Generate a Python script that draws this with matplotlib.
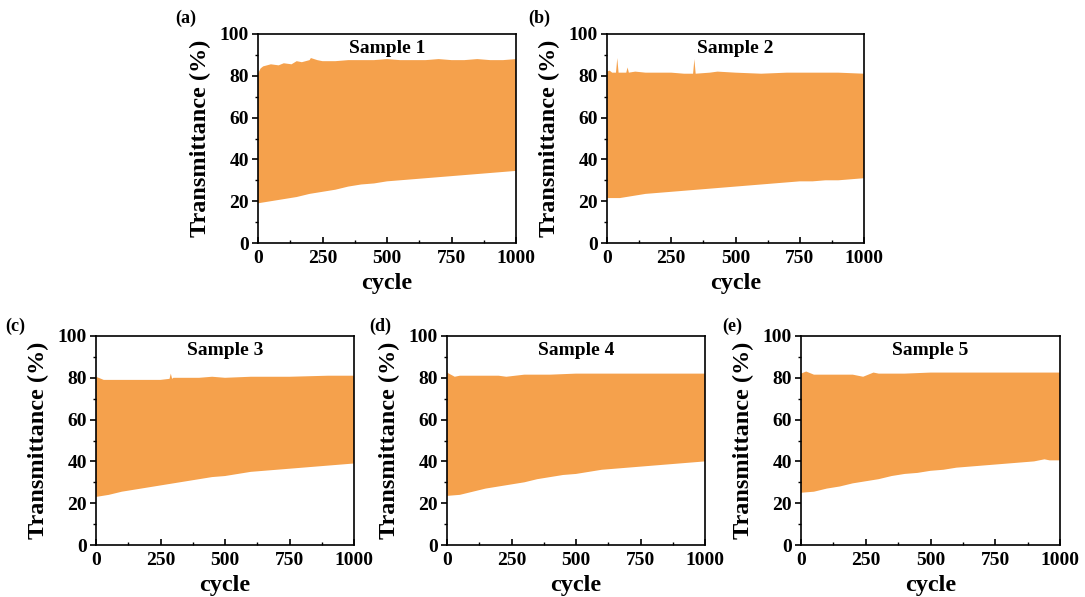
import matplotlib
matplotlib.use("Agg")
import matplotlib.pyplot as plt
import numpy as np

# огибающие пропускания (верх / низ) для пяти образцов

# Sample 1
s1_up_x = [0, 10, 20, 50, 80, 100, 130, 150, 170, 200, 205, 230, 250, 300, 350, 400, 450, 500, 550, 600, 650, 700, 750, 800, 850, 900, 950, 1000]
s1_up_y = [81, 83.5, 84.5, 85.5, 85, 86, 85.5, 87, 86.5, 87.5, 88.5, 87.5, 87, 87, 87.5, 87.5, 87.5, 88, 87.5, 87.5, 87.5, 88, 87.5, 87.5, 88, 87.5, 87.5, 88]
s1_lo_x = [0, 50, 100, 150, 200, 250, 300, 350, 400, 450, 500, 550, 600, 650, 700, 750, 800, 850, 900, 950, 1000]
s1_lo_y = [19, 20, 21, 22, 23.5, 24.5, 25.5, 27, 28, 28.5, 29.5, 30, 30.5, 31, 31.5, 32, 32.5, 33, 33.5, 34, 34.5]

# Sample 2
s2_up_x = [0, 10, 20, 35, 40, 45, 60, 75, 80, 85, 110, 150, 250, 300, 335, 340, 345, 400, 430, 500, 600, 700, 800, 900, 1000]
s2_up_y = [82, 82.5, 81.5, 81.5, 88.5, 81.5, 81.5, 81.5, 84, 81.5, 82, 81.5, 81.5, 81, 81, 88, 81, 81.5, 82, 81.5, 81, 81.5, 81.5, 81.5, 81]
s2_lo_x = [0, 50, 100, 150, 200, 250, 300, 350, 400, 450, 500, 550, 600, 650, 700, 750, 800, 850, 900, 950, 1000]
s2_lo_y = [21.5, 21.5, 22.5, 23.5, 24, 24.5, 25, 25.5, 26, 26.5, 27, 27.5, 28, 28.5, 29, 29.5, 29.5, 30, 30, 30.5, 31]

# Sample 3
s3_up_x = [0, 20, 30, 100, 200, 250, 285, 290, 295, 300, 400, 450, 500, 600, 750, 900, 1000]
s3_up_y = [80.5, 79.5, 79, 79, 79, 79, 79.5, 82, 79.5, 80, 80, 80.5, 80, 80.5, 80.5, 81, 81]
s3_lo_x = [0, 50, 100, 150, 200, 250, 300, 350, 400, 450, 500, 550, 600, 650, 700, 750, 800, 850, 900, 950, 1000]
s3_lo_y = [23, 24, 25.5, 26.5, 27.5, 28.5, 29.5, 30.5, 31.5, 32.5, 33, 34, 35, 35.5, 36, 36.5, 37, 37.5, 38, 38.5, 39]

# Sample 4
s4_up_x = [0, 15, 30, 50, 100, 200, 230, 300, 400, 500, 600, 700, 800, 900, 1000]
s4_up_y = [82.5, 81.5, 80.5, 81, 81, 81, 80.5, 81.5, 81.5, 82, 82, 82, 82, 82, 82]
s4_lo_x = [0, 50, 100, 150, 200, 250, 300, 350, 400, 450, 500, 550, 600, 650, 700, 750, 800, 850, 900, 950, 1000]
s4_lo_y = [23.5, 24, 25.5, 27, 28, 29, 30, 31.5, 32.5, 33.5, 34, 35, 36, 36.5, 37, 37.5, 38, 38.5, 39, 39.5, 40]

# Sample 5
s5_up_x = [0, 20, 50, 100, 200, 240, 260, 280, 300, 400, 500, 600, 700, 800, 900, 1000]
s5_up_y = [82, 83, 81.5, 81.5, 81.5, 80.5, 81.5, 82.5, 82, 82, 82.5, 82.5, 82.5, 82.5, 82.5, 82.5]
s5_lo_x = [0, 50, 100, 150, 200, 250, 300, 350, 400, 450, 500, 550, 600, 650, 700, 750, 800, 850, 900, 940, 960, 1000]
s5_lo_y = [25, 25.5, 27, 28, 29.5, 30.5, 31.5, 33, 34, 34.5, 35.5, 36, 37, 37.5, 38, 38.5, 39, 39.5, 40, 41, 40.5, 40.5]

samples = ["Sample 1", "Sample 2", "Sample 3", "Sample 4", "Sample 5"]
panel_tags = ["(a)", "(b)", "(c)", "(d)", "(e)"]
x_ticks = [0, 250, 500, 750, 1000]
y_ticks = [0, 20, 40, 60, 80, 100]

data = [
    (s1_up_x, s1_up_y, s1_lo_x, s1_lo_y),
    (s2_up_x, s2_up_y, s2_lo_x, s2_lo_y),
    (s3_up_x, s3_up_y, s3_lo_x, s3_lo_y),
    (s4_up_x, s4_up_y, s4_lo_x, s4_lo_y),
    (s5_up_x, s5_up_y, s5_lo_x, s5_lo_y),
]

plt.rcParams['font.family'] = ['Liberation Serif', 'DejaVu Serif']
plt.rcParams['font.weight'] = 'bold'

W, H = 1085, 597
fig = plt.figure(figsize=(W / 100, H / 100), dpi=100)

# положения осей в пикселях: left, top, right, bottom
boxes = [
    (258, 34, 516, 243),
    (607, 34, 864, 243),
    (96, 336, 354, 545),
    (447, 336, 705, 545),
    (801, 336, 1060, 545),
]
tag_pos = [(175, 18), (528, 18), (5, 326), (369, 326), (722, 326)]

orange = '#F5A14C'

for i, (l, t, r, b) in enumerate(boxes):
    ax = fig.add_axes([l / W, 1 - b / H, (r - l) / W, (b - t) / H])
    ux, uy, lx, ly = data[i]
    px = np.concatenate([ux, lx[::-1]])
    py = np.concatenate([uy, ly[::-1]])
    ax.fill(px, py, color=orange, lw=0)

    ax.set_xlim(0, 1000)
    ax.set_ylim(0, 100)
    ax.set_xticks(x_ticks)
    ax.set_yticks(y_ticks)
    ax.set_xticks(np.arange(125, 1000, 250), minor=True)
    ax.set_yticks(np.arange(10, 100, 20), minor=True)
    ax.tick_params(axis='y', which='major', direction='out', length=4.5, width=1.2,
                   labelsize=14, pad=2)
    ax.tick_params(axis='x', which='major', direction='in', length=4.5, width=1.2,
                   labelsize=14, pad=5)
    ax.tick_params(axis='y', which='minor', direction='out', length=2.5, width=1)
    ax.tick_params(axis='x', which='minor', direction='in', length=2.5, width=1)
    for lab in ax.get_xticklabels() + ax.get_yticklabels():
        lab.set_fontweight('bold')
    for sp in ax.spines.values():
        sp.set_linewidth(1.2)

    ax.set_xlabel('cycle', fontsize=17.5, fontweight='bold', labelpad=4)
    ax.set_ylabel('Transmittance (%)', fontsize=17.5, fontweight='bold', labelpad=6)
    ax.text(0.5, 0.93, samples[i], transform=ax.transAxes, ha='center', va='center',
            fontsize=14, fontweight='bold')

    tx, ty = tag_pos[i]
    fig.text(tx / W, 1 - ty / H, panel_tags[i], ha='left', va='center',
             fontsize=13, fontweight='bold')

fig.savefig('out.png', dpi=100)
